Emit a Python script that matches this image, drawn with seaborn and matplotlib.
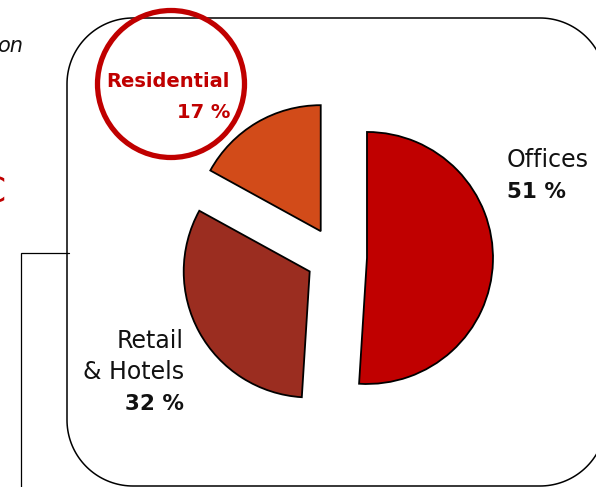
import matplotlib
matplotlib.use("Agg")
import matplotlib.pyplot as plt
from matplotlib.patches import Circle, Polygon
import numpy as np
import seaborn as sns

# Portfolio split by segment
segments = ["Residential", "Retail", "& Hotels", "Offices"]
shares = [17, 32, 51]
share_labels = ["17 %", "32 %", "51 %"]
colors = ["#D24B19", "#9B2D20", "#C00000"]

sns.set_theme(style="white")
plt.rcParams["font.family"] = ["DejaVu Sans"]

W, H = 596, 487
fig = plt.figure(figsize=(W / 100, H / 100), dpi=100)
ax = fig.add_axes([0, 0, 1, 1])


def py(y):
    """Convert a top-down pixel row into the axes' bottom-up y."""
    return H - y


def rounded_frame(x0, y0, x1, y1, r, n=40):
    """Outline of a rectangle with circular corners, as polygon vertices."""
    pts = []
    corners = [(x1 - r, y1 - r, 0), (x0 + r, y1 - r, 90),
               (x0 + r, y0 + r, 180), (x1 - r, y0 + r, 270)]
    for cx, cy, a0 in corners:
        t = np.radians(np.linspace(a0, a0 + 90, n))
        pts.extend(zip(cx + r * np.cos(t), cy + r * np.sin(t)))
    return np.array(pts)


radius = 126
wedges, _ = ax.pie(
    shares,
    colors=sns.color_palette(colors),
    startangle=90,
    counterclock=True,
    radius=radius,
    center=(336, py(257)),
    explode=[30, 30, 31],
    wedgeprops=dict(edgecolor="black", linewidth=1.3),
)
ax.set_xlim(0, W)
ax.set_ylim(0, H)
ax.set_aspect("auto")
ax.axis("off")

# rounded frame around the chart
frame = Polygon(rounded_frame(67, py(486), 606, py(18), 66), closed=True,
                fill=False, edgecolor="black", linewidth=1.1, zorder=0)
ax.add_patch(frame)

# bracket linking to the neighbouring panel
ax.plot([69, 21, 21], [py(253), py(253), py(490)], color="black", lw=0.9,
        solid_joinstyle="miter", clip_on=False)

# highlight ring around the residential label
ax.add_patch(Circle((171, py(84)), 73.5, fill=False, edgecolor="#C00000",
                    linewidth=3.8, zorder=5))

fs = 17
fs_pct = 15.5
ink = "#111111"
# Offices
ax.text(507, py(167), segments[3], ha="left", va="baseline", fontsize=fs, color=ink)
ax.text(507, py(198), share_labels[2], ha="left", va="baseline", fontsize=fs_pct,
        fontweight="bold", color=ink)
# Retail & Hotels
ax.text(184, py(348), segments[1], ha="right", va="baseline", fontsize=fs, color=ink)
ax.text(184, py(379), segments[2], ha="right", va="baseline", fontsize=fs, color=ink)
ax.text(184, py(410), share_labels[1], ha="right", va="baseline", fontsize=fs_pct,
        fontweight="bold", color=ink)
# Residential
ax.text(230, py(87), segments[0], ha="right", va="baseline", fontsize=14,
        fontweight="bold", color="#C00000", zorder=6)
ax.text(230, py(118), share_labels[0], ha="right", va="baseline", fontsize=14,
        fontweight="bold", color="#C00000", zorder=6)

# tail ends of the neighbouring panel's texts
ax.text(23, py(52), "on", ha="right", va="baseline", fontsize=15, style="italic",
        color=ink)
ax.text(6, py(201), "C", ha="right", va="baseline", fontsize=26, color="#C00000")

fig.savefig("out.png", dpi=100)
